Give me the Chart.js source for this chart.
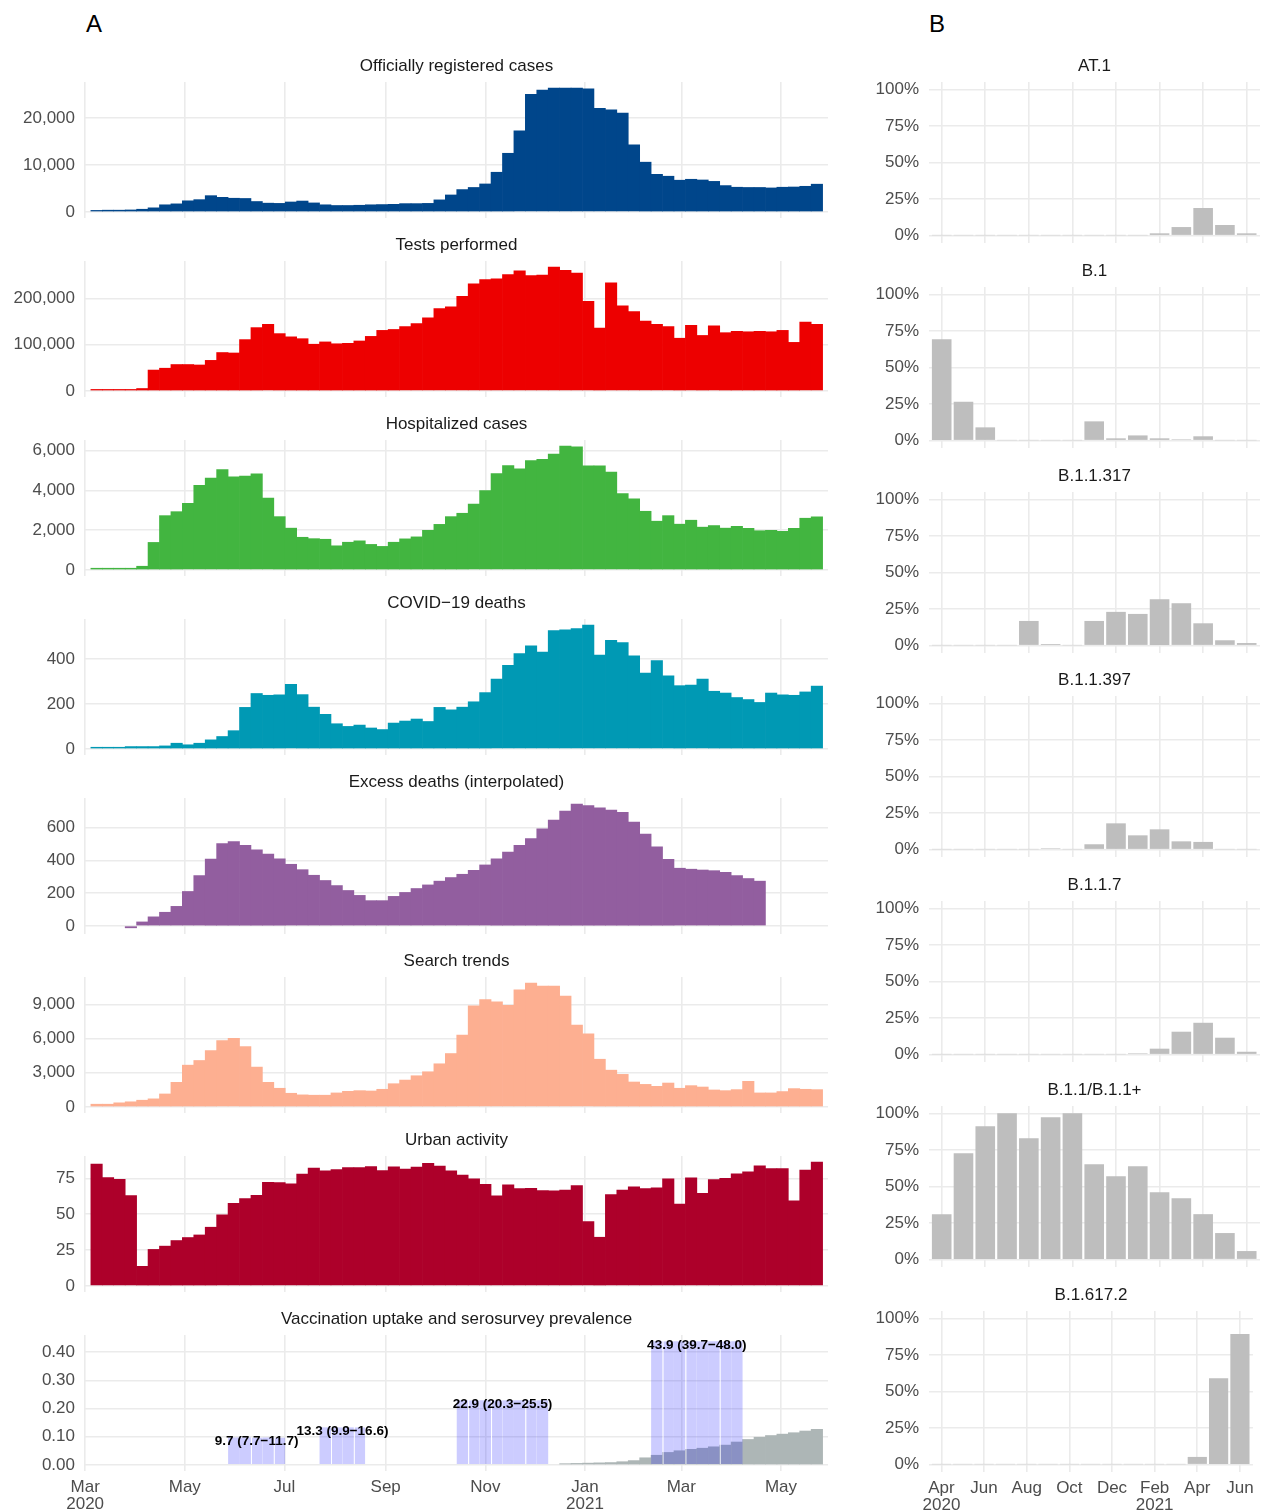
<!DOCTYPE html>
<html><head><meta charset="utf-8">
<script src="https://cdn.jsdelivr.net/npm/chart.js@4.4.1/dist/chart.umd.min.js"></script>
<style>
html,body{margin:0;padding:0;background:#fff}
body{width:1262px;height:1511px;position:relative;overflow:hidden;font-family:"Liberation Sans",Arial,sans-serif}
.p{position:absolute}
.p canvas{display:block}
.lab{position:absolute;font-size:24px;line-height:24px;color:#000}
</style></head><body>
<div class="lab" style="left:86px;top:12px">A</div>
<div class="lab" style="left:929px;top:12px">B</div>
<script>
// ---------------- Panel A: weekly series (Mar 2020 - Jun 2021) ----------------
const weekCount = 64;
const weekCenterDay = []; // days since 1 Mar 2020
for (let k = 0; k < weekCount; k++) weekCenterDay.push(7 + 7 * k);

const monthTickDays = [0, 61, 122, 184, 245, 306, 365, 426];
const monthTickLabels = [['Mar', '2020'], 'May', 'Jul', 'Sep', 'Nov', ['Jan', '2021'], 'Mar', 'May'];

const cases = [300,350,350,400,550,850,1500,1700,2350,2600,3450,3100,2900,2850,2200,1850,1800,2100,2300,1900,1500,1350,1350,1400,1500,1550,1600,1750,1750,1800,2550,3600,4750,5200,5950,8450,12500,17300,25100,26000,26400,26400,26400,26250,22100,21800,21100,14300,10600,8000,7600,6750,6950,6800,6500,5600,5250,5200,5200,5100,5250,5300,5450,5900];
const tests = [3000,3000,3000,3000,5000,45000,49000,57000,57000,56000,66000,83000,82000,111000,137000,144000,124000,117000,113000,101000,106000,102000,103000,108000,118000,131000,133000,139000,146000,158000,178000,182000,205000,232000,241000,243000,252000,260000,250000,251000,268000,261000,255000,194000,136000,234000,184000,172000,151000,144000,139000,114000,142000,120000,141000,126000,129000,128000,129000,128000,131000,105000,149000,144000];
const hospitalized = [80,80,80,80,180,1380,2730,2930,3350,4260,4620,5050,4690,4720,4840,3610,2680,2100,1640,1570,1540,1210,1390,1460,1280,1180,1390,1560,1660,1990,2290,2680,2850,3310,3990,4850,5250,5090,5500,5570,5830,6230,6200,5240,5240,4920,3840,3580,2950,2450,2730,2300,2500,2150,2230,2100,2190,2090,1970,1990,1940,2090,2600,2670];
const deaths = [7,7,7,10,10,10,13,25,18,25,40,55,81,185,247,239,241,288,242,186,154,112,100,106,93,86,115,124,133,122,185,174,186,210,251,311,373,425,460,432,528,531,537,552,419,484,474,415,338,394,326,282,285,311,257,249,229,220,207,249,241,239,254,280];
const excessDeaths = [null,null,null,-12,24,55,83,119,210,307,408,503,515,491,465,438,410,376,343,309,277,246,216,186,154,154,180,204,228,250,273,295,315,339,372,410,450,491,533,592,646,701,743,735,721,707,693,634,560,483,406,352,346,341,337,327,307,289,273,null,null,null,null,null];
const searchTrends = [230,230,350,440,580,700,1130,2150,3660,4070,4940,5810,6010,5290,3490,2150,1630,1190,1050,1020,1020,1220,1360,1420,1390,1540,2030,2350,2730,3080,3780,4680,6300,8860,9410,9230,8920,10280,10860,10600,10600,9730,7170,6420,4180,3220,2850,2180,1970,1800,2090,1630,1860,1740,1480,1420,1510,2240,1220,1220,1340,1600,1540,1510];
const urbanActivity = [85,75.5,74.3,63,13.6,25.4,27.7,31.6,33.7,35.5,40.9,49.6,57.5,60.9,63.2,72.2,72,71.1,78,82.2,80.3,81.2,82.6,82.6,83.3,80.5,83.1,81.5,82.9,85.4,83.6,80.3,77.3,74.6,70.9,62.8,70.4,67.9,68.1,66.5,66.3,66.9,69.9,44.8,33.9,63.7,66.9,69,67.9,68.4,74.6,57,75.3,64.6,74.1,75,78.2,79.6,83.8,81.9,81.9,59.3,80.8,86.3];
const vaccination = [null,null,null,null,null,null,null,null,null,null,null,null,null,null,null,null,null,null,null,null,null,null,null,null,null,null,null,null,null,null,null,null,null,null,null,null,null,null,null,null,null,0.004,0.005,0.006,0.007,0.008,0.011,0.015,0.025,0.034,0.044,0.05,0.055,0.059,0.064,0.07,0.081,0.09,0.098,0.104,0.109,0.114,0.12,0.126];

// serosurvey rounds
const seroValue = [0.097, 0.133, 0.229, 0.439];
const seroFirstWeek = [12, 20, 32, 49];
const seroLastWeek = [16, 23, 39, 56];
const seroLabel = ['9.7 (7.7\u221211.7)', '13.3 (9.9\u221216.6)', '22.9 (20.3\u221225.5)', '43.9 (39.7\u221248.0)'];
const seroSplitWeeks = [14, 16, 21, 23, 33, 35, 38, 50, 52, 55];
const serosurvey = new Array(weekCount).fill(null);
seroValue.forEach((v, i) => { for (let k = seroFirstWeek[i]; k <= seroLastWeek[i]; k++) serosurvey[k] = v; });

// ---------------- Panel B: monthly variant shares (Apr 2020 - Jun 2021) ----------------
const monthIndex = [0,1,2,3,4,5,6,7,8,9,10,11,12,13,14];
const monthTickIdx = [0, 2, 4, 6, 8, 10, 12, 14];
const monthTickText = [['Apr', '2020'], 'Jun', 'Aug', 'Oct', 'Dec', ['Feb', '2021'], 'Apr', 'Jun'];
const shareAT1 = [0.003,0.003,0.003,0.003,0.003,0.003,0.003,0.003,0.003,0.003,0.016,0.059,0.189,0.073,0.016];
const shareB1 = [0.693,0.266,0.091,0.003,0.003,0.003,0.003,0.132,0.016,0.036,0.016,0.009,0.03,0.003,0.003];
const shareB11317 = [0.003,0.003,0.003,0.003,0.169,0.011,0.003,0.169,0.231,0.217,0.317,0.29,0.153,0.037,0.018];
const shareB11397 = [0.003,0.003,0.003,0.003,0.003,0.009,0.003,0.037,0.18,0.098,0.139,0.057,0.053,0.003,0.003];
const shareB117 = [0.003,0.003,0.003,0.003,0.003,0.003,0.003,0.003,0.003,0.009,0.041,0.157,0.218,0.116,0.02];
const shareB11plus = [0.311,0.727,0.911,1.0,0.83,0.973,1.0,0.652,0.57,0.639,0.461,0.42,0.311,0.182,0.059];
const shareB16172 = [0.003,0.003,0.003,0.003,0.003,0.003,0.003,0.003,0.003,0.003,0.003,0.003,0.053,0.591,0.893];

// ---------------- drawing ----------------
Chart.defaults.font.family = '"Liberation Sans", Arial, sans-serif';
Chart.defaults.font.size = 17;
Chart.defaults.color = '#4D4D4D';
const GRID = '#EBEBEB';
const comma = v => Number(v).toLocaleString('en-US');

const seroLabelPlugin = {
  id: 'seroLabels',
  afterDatasetsDraw(chart) {
    const {ctx, scales: {x, y}} = chart;
    ctx.save();
    ctx.font = 'bold 13.5px "Liberation Sans", Arial, sans-serif';
    ctx.fillStyle = '#000';
    ctx.textAlign = 'center';
    ctx.textBaseline = 'middle';
    seroValue.forEach((v, i) => {
      const xc = (weekCenterDay[seroFirstWeek[i]] + weekCenterDay[seroLastWeek[i]]) / 2;
      ctx.fillText(seroLabel[i], x.getPixelForValue(xc), y.getPixelForValue(v) + 4);
    });
    ctx.restore();
  }
};

function makeChart(o) {
  const div = document.createElement('div');
  div.className = 'p';
  div.style.left = o.left + 'px';
  div.style.top = o.top + 'px';
  const cv = document.createElement('canvas');
  cv.width = o.width; cv.height = o.height;
  cv.style.width = o.width + 'px'; cv.style.height = o.height + 'px';
  div.appendChild(cv);
  document.body.appendChild(div);
  return new Chart(cv, {
    type: 'bar',
    data: {labels: o.labels, datasets: o.datasets},
    plugins: o.plugins || [],
    options: {
      responsive: false, devicePixelRatio: 1, animation: false,
      layout: {padding: {left: 0, right: o.padRight, top: 0, bottom: 0}},
      plugins: {
        legend: {display: false}, tooltip: {enabled: false},
        title: {display: true, fullSize: false, text: o.title, color: '#1A1A1A',
          font: {size: 17, weight: 'normal', lineHeight: 1.2}, padding: {top: 0, bottom: 5.6}}
      },
      scales: {
        x: {
          type: 'linear', min: o.xmin, max: o.xmax, offset: false,
          grid: {color: GRID, lineWidth: 1.6, offset: false, drawTicks: false},
          border: {display: false},
          ticks: {display: o.bottom, autoSkip: false, maxRotation: 0, minRotation: 0, padding: 8,
            font: {size: 17, lineHeight: 1}, color: '#4D4D4D',
            callback: v => { const i = o.xTicks.indexOf(v); return i >= 0 ? o.xTickLabels[i] : ''; }},
          afterBuildTicks: ax => { ax.ticks = o.xTicks.map(v => ({value: v})); },
          afterFit: ax => { ax.height = o.bottom ? 41 : 22; }
        },
        y: {
          min: o.ymin, max: o.ymax,
          grid: {color: GRID, lineWidth: 1.6, drawTicks: false},
          border: {display: false},
          ticks: {padding: 10, font: {size: 17}, color: '#4D4D4D', callback: o.fmt},
          afterBuildTicks: ax => { ax.ticks = o.yTicks.map(v => ({value: v})); },
          afterFit: ax => { ax.width = o.yWidth; }
        }
      }
    }
  });
}

function barSet(values, color, pct, inflate) {
  return {data: values, backgroundColor: color, borderWidth: 0, barPercentage: pct,
    categoryPercentage: 1, grouped: false, inflateAmount: inflate === undefined ? 'auto' : inflate};
}

const seroSet = barSet(serosurvey, 'rgba(0,0,255,0.2)', 1, 0);
seroSet.borderColor = '#FFFFFF';
seroSet.borderSkipped = false;
seroSet.borderWidth = c => seroSplitWeeks.includes(c.dataIndex) ? {left: 1, right: 0, top: 0, bottom: 0} : 0;

// Panel A layout
const leftPanels = [
  {title: 'Officially registered cases', sets: [barSet(cases, '#00468B', 1)], ymin: -1320, ymax: 27720, yTicks: [0, 10000, 20000], fmt: comma},
  {title: 'Tests performed', sets: [barSet(tests, '#ED0000', 1)], ymin: -13400, ymax: 281400, yTicks: [0, 100000, 200000], fmt: comma},
  {title: 'Hospitalized cases', sets: [barSet(hospitalized, '#42B540', 1)], ymin: -311.5, ymax: 6541.5, yTicks: [0, 2000, 4000, 6000], fmt: comma},
  {title: 'COVID\u221219 deaths', sets: [barSet(deaths, '#0099B4', 1)], ymin: -27.6, ymax: 579.6, yTicks: [0, 200, 400], fmt: comma},
  {title: 'Excess deaths (interpolated)', sets: [barSet(excessDeaths, '#925E9F', 1)], ymin: -49.75, ymax: 780.75, yTicks: [0, 200, 400, 600], fmt: comma},
  {title: 'Search trends', sets: [barSet(searchTrends, '#FDAF91', 1)], ymin: -543, ymax: 11403, yTicks: [0, 3000, 6000, 9000], fmt: comma},
  {title: 'Urban activity', sets: [barSet(urbanActivity, '#AD002A', 1)], ymin: -4.315, ymax: 90.6, yTicks: [0, 25, 50, 75], fmt: comma},
  {title: 'Vaccination uptake and serosurvey prevalence',
   sets: [seroSet, barSet(vaccination, '#ADB6B6', 1)],
   ymin: -0.02195, ymax: 0.46095, yTicks: [0, 0.1, 0.2, 0.3, 0.4], fmt: v => Number(v).toFixed(2), plugins: [seroLabelPlugin]}
];
leftPanels.forEach((p, i) => {
  const plotTop = 82 + 179 * i;
  const bottom = i === leftPanels.length - 1;
  makeChart({
    left: 0, top: plotTop - 26, width: 840, height: 26 + 136 + (bottom ? 41 : 22),
    title: p.title, labels: weekCenterDay, datasets: p.sets, plugins: p.plugins,
    xmin: -0.1, xmax: 454.8, xTicks: monthTickDays, xTickLabels: monthTickLabels,
    ymin: p.ymin, ymax: p.ymax, yTicks: p.yTicks, fmt: p.fmt,
    yWidth: 85, padRight: 12, bottom: bottom
  });
});

// Panel B layout
const rightPanels = [
  {title: 'AT.1', vals: shareAT1},
  {title: 'B.1', vals: shareB1},
  {title: 'B.1.1.317', vals: shareB11317},
  {title: 'B.1.1.397', vals: shareB11397},
  {title: 'B.1.1.7', vals: shareB117},
  {title: 'B.1.1/B.1.1+', vals: shareB11plus},
  {title: 'B.1.617.2', vals: shareB16172}
];
rightPanels.forEach((p, j) => {
  const plotTop = Math.round(82.4 + 204.7 * j);
  const bottom = j === rightPanels.length - 1;
  makeChart({
    left: 860, top: plotTop - 26, width: 402, height: 26 + 161 + (bottom ? 41 : 22),
    title: p.title, labels: monthIndex, datasets: [barSet(p.vals, '#BEBEBE', 0.9)],
    xmin: -0.583, xmax: 14.61, xTicks: monthTickIdx, xTickLabels: monthTickText,
    ymin: -0.05, ymax: 1.05, yTicks: [0, 0.25, 0.5, 0.75, 1], fmt: v => Math.round(v * 100) + '%',
    yWidth: 69, padRight: 2, bottom: bottom
  });
});
</script>
</body></html>
